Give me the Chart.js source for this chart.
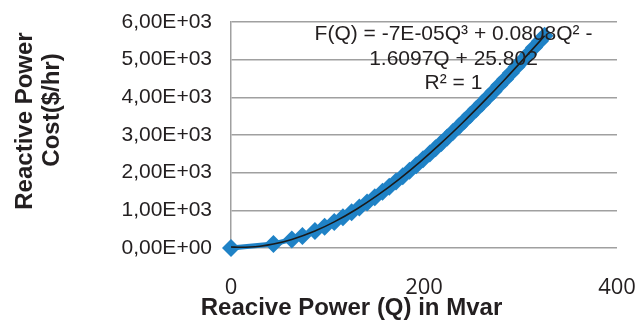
<!DOCTYPE html>
<html>
<head>
<meta charset="utf-8">
<script src="https://cdn.jsdelivr.net/npm/chart.js@4.4.1/dist/chart.umd.min.js"></script>
<style>
  body { margin: 0; background: #fff; }
  #wrap { width: 638px; height: 323px; }
</style>
</head>
<body>
<div id="wrap"><canvas id="myChart1"></canvas></div>
<script>
// data
const qValues = [0, 44, 63, 74, 87, 97, 107, 116, 125, 133, 141, 149, 157, 164, 171, 178, 185, 192, 199, 206,
  212, 218, 224, 230, 236, 242, 248, 254, 260, 266, 272, 278, 284, 290, 296, 302, 308, 314, 320, 325]
const costValues = [0, 105, 228, 321, 451, 566, 693, 817, 950, 1076, 1209, 1348, 1494, 1626, 1763, 1905, 2050, 2200, 2354, 2511,
  2649, 2790, 2933, 3078, 3226, 3376, 3528, 3683, 3839, 3997, 4157, 4319, 4482, 4647, 4813, 4981, 5150, 5320, 5491, 5634]
const trendQ = [0, 10, 20, 30, 44, 63, 87, 107, 130, 152, 174, 196, 218, 240, 262, 284, 306, 325]
const trendCost = [26, 18, 25, 48, 105, 228, 451, 693, 1028, 1402, 1823, 2287, 2790, 3326, 3892, 4482, 5093, 5634]
const xTicks = [0, 200, 400]
const yTicks = [0, 1000, 2000, 3000, 4000, 5000, 6000]
const equationLines = ['F(Q) = -7E-05Q³ + 0.0808Q² -', '1.6097Q + 25.802', 'R² = 1']
const xTitle = 'Reacive Power (Q) in Mvar'
const yTitle = ['Reactive Power', 'Cost($/hr)']

const points = qValues.map((q, i) => ({x: q, y: costValues[i]}))
const trend = trendQ.map((q, i) => ({x: q, y: trendCost[i]}))

function sci(v) {
  if (v === 0) return '0,00E+00'
  const e = Math.floor(Math.log10(v))
  const m = (v / Math.pow(10, e)).toFixed(2).replace('.', ',')
  return m + 'E+' + String(e).padStart(2, '0')
}

const textPlugin = {
  id: 'texts',
  afterDatasetsDraw(chart) {
    const c = chart.ctx
    const a = chart.chartArea
    c.save()
    c.fillStyle = '#231f20'
    c.font = '21px "Liberation Sans", Arial, sans-serif'
    c.textAlign = 'center'
    c.textBaseline = 'alphabetic'
    const cx = a.left + 222.5
    c.fillText(equationLines[0], cx, a.top + 18)
    c.fillText(equationLines[1], cx, a.top + 43)
    c.fillText(equationLines[2], cx, a.top + 67)

    c.font = 'bold 24px "Liberation Sans", Arial, sans-serif'
    c.fillText(xTitle, a.left + 120.5, a.bottom + 67)

    c.textBaseline = 'middle'
    c.translate(25, 121)
    c.rotate(-Math.PI / 2)
    c.fillText(yTitle[0], 0, 0)
    c.restore()
    c.save()
    c.fillStyle = '#231f20'
    c.font = 'bold 24px "Liberation Sans", Arial, sans-serif'
    c.textAlign = 'center'
    c.textBaseline = 'middle'
    c.translate(52, 110)
    c.rotate(-Math.PI / 2)
    c.fillText(yTitle[1], 0, 0)
    c.restore()
  }
}

new Chart(document.getElementById('myChart1'), {
  type: 'scatter',
  data: {
    datasets: [{
      label: 'trend',
      data: trend,
      showLine: true,
      borderColor: '#1a1a1a',
      borderWidth: 1.6,
      pointRadius: 0,
      cubicInterpolationMode: 'monotone',
      clip: false,
      order: 0
    }, {
      label: 'cost',
      data: points,
      showLine: true,
      borderColor: '#1f82c6',
      borderWidth: 5,
      backgroundColor: '#1f82c6',
      pointStyle: 'rectRot',
      pointRadius: 9,
      pointBorderWidth: 0,
      clip: false,
      order: 1
    }]
  },
  options: {
    responsive: true,
    maintainAspectRatio: false,
    animation: false,
    layout: { padding: { left: 0, right: 21, top: 22, bottom: 0 } },
    plugins: { legend: { display: false }, tooltip: { enabled: false } },
    scales: {
      x: {
        type: 'linear',
        min: 0,
        max: 400,
        afterBuildTicks: (s) => { s.ticks = xTicks.map(v => ({value: v})) },
        afterFit: (s) => { s.height = 75; s.paddingLeft = 0; s.paddingRight = 0 },
        grid: { display: false },
        border: { display: false },
        ticks: {
          padding: 19,
          color: '#231f20',
          font: { family: '"Open Sans", sans-serif', size: 22 }
        }
      },
      y: {
        min: 0,
        max: 6000,
        afterBuildTicks: (s) => { s.ticks = yTicks.map(v => ({value: v})) },
        afterFit: (s) => { s.width = 231; s.paddingTop = 0; s.paddingBottom = 0 },
        grid: { color: '#a0a0a0', lineWidth: 1.5, drawTicks: false },
        border: { display: true, color: '#a0a0a0', width: 1.5 },
        ticks: {
          padding: 19,
          color: '#231f20',
          font: { family: '"Liberation Sans", Arial, sans-serif', size: 21 },
          callback: (v) => sci(v)
        }
      }
    }
  },
  plugins: [textPlugin]
});
</script>
</body>
</html>
